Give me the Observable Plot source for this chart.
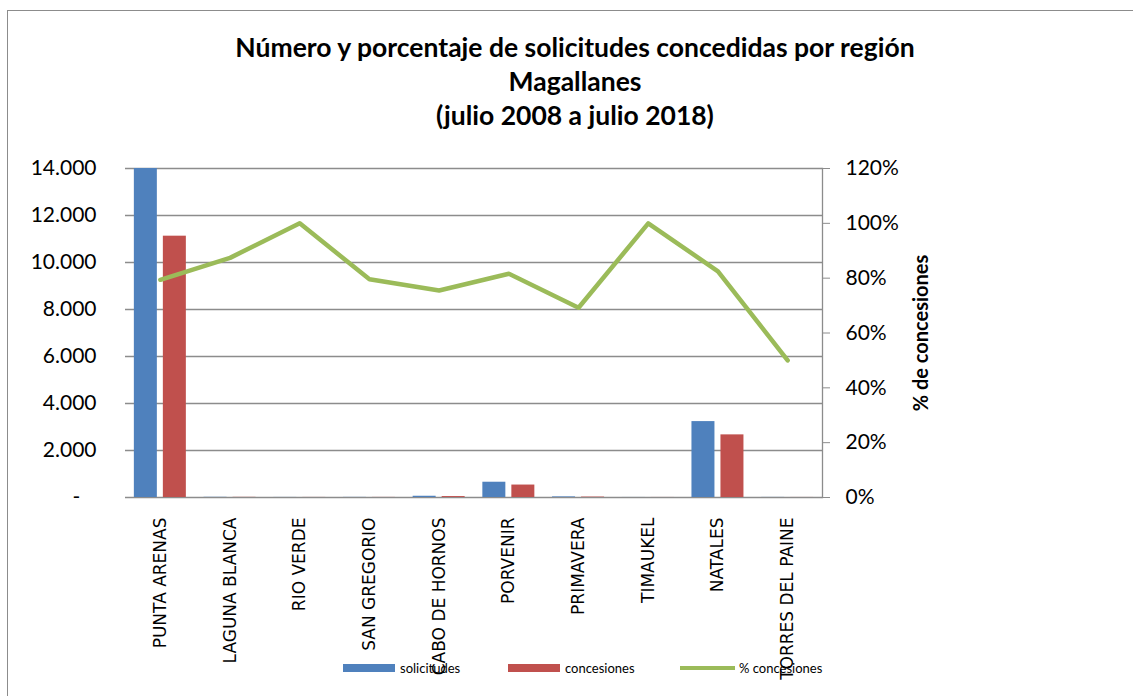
<!DOCTYPE html>
<html><head><meta charset="utf-8">
<script src="https://cdn.jsdelivr.net/npm/d3@7"></script>
<script src="https://cdn.jsdelivr.net/npm/@observablehq/plot@0.6"></script>
<style>
body{margin:0;background:#fff;}
#wrap{position:relative;width:1133px;height:696px;overflow:hidden;font-family:Lato,sans-serif;color:#000;}
#frame{position:absolute;left:7px;top:10px;width:1300px;height:900px;border-left:1.5px solid #8c8c8c;border-top:1.5px solid #8c8c8c;}
#title{position:absolute;left:0;top:0;width:1150px;height:140px;text-align:center;font-weight:bold;font-size:26.5px;line-height:34px;padding-top:30px;box-sizing:border-box;}
#chart,#overlay{position:absolute;left:0;top:140px;}
#overlay{pointer-events:none;}
.lg{position:absolute;font-size:13px;line-height:16px;white-space:nowrap;}
.sw{position:absolute;}
</style></head>
<body>
<div id="wrap">
  <div id="frame"></div>
  <div id="title">Número y porcentaje de solicitudes concedidas por región<br>Magallanes<br>(julio 2008 a julio 2018)</div>
  <div id="chart"></div>
  <div id="overlay"></div>
  <div id="legend"></div>
</div>
<script>
const regions = ["PUNTA ARENAS","LAGUNA BLANCA","RIO VERDE","SAN GREGORIO","CABO DE HORNOS","PORVENIR","PRIMAVERA","TIMAUKEL","NATALES","TORRES DEL PAINE"];
const solicitudes = [14000, 8, 3, 5, 53, 650, 26, 2, 3230, 4];
const concesiones = [11120, 7, 3, 4, 40, 530, 18, 2, 2665, 2];
const pctConcesiones = [79.4, 87.4, 100, 79.6, 75.5, 81.6, 69.2, 100, 82.5, 50];
const leftTicks = [0, 2000, 4000, 6000, 8000, 10000, 12000, 14000];
const rightTicks = [0, 20, 40, 60, 80, 100, 120];
const seriesNames = ["solicitudes", "concesiones", "% concesiones"];
const colors = ["#4F81BD", "#C0504D", "#9BBB59"];
const rightTitle = "% de concesiones";

const data = regions.map((r, i) => ({region: r, solicitudes: solicitudes[i], concesiones: concesiones[i], pct: pctConcesiones[i]}));
const esFmt = d3.formatLocale({decimal: ",", thousands: ".", grouping: [3], currency: ["$", ""]}).format(",.0f");

const W = 1133, H = 556;
const common = {
  width: W, height: H, marginTop: 28, marginBottom: 199, marginLeft: 125, marginRight: 311,
  style: {fontFamily: "Lato, sans-serif", fontSize: "21px", color: "#000", background: "transparent", overflow: "visible"}
};
const xScale = {type: "band", domain: regions, paddingInner: 0.254, paddingOuter: 0.127, round: false};

const main = Plot.plot({
  ...common,
  x: {...xScale, axis: null},
  y: {domain: [0, 14000], axis: null},
  marks: [
    Plot.ruleY(leftTicks, {stroke: "#8c8c8c", strokeWidth: 1.3}),
    Plot.barY(data, {x: "region", y: "solicitudes", fill: colors[0], insetRight: 29}),
    Plot.barY(data, {x: "region", y: "concesiones", fill: colors[1], insetLeft: 29}),
    Plot.axisY({ticks: leftTicks, tickSize: 0, tickPadding: 29, label: null,
      tickFormat: d => d === 0 ? "-\u00a0\u00a0\u00a0" : esFmt(d), fontSize: 21}),
    Plot.axisX({tickRotate: -90, tickSize: 0, tickPadding: 20, label: null, fontSize: 17, fontFamily: "DejaVu Sans"})
  ]
});
document.getElementById("chart").appendChild(main);

const over = Plot.plot({
  ...common,
  x: {...xScale, axis: null},
  y: {domain: [0, 120], axis: null},
  marks: [
    Plot.frame({anchor: "right", stroke: "#8c8c8c", strokeWidth: 1.3}),
    Plot.lineY(data, {x: "region", y: "pct", stroke: colors[2], strokeWidth: 4.5, strokeLinejoin: "round", strokeLinecap: "round"}),
    Plot.axisY({anchor: "right", ticks: rightTicks, tickSize: 7, tickPadding: 16, stroke: "#8c8c8c", label: null,
      tickFormat: d => d + "%", fontSize: 21}),
    Plot.text([rightTitle], {text: d => d, frameAnchor: "right", dx: 99, rotate: -90, textAnchor: "middle",
      fontWeight: "bold", fontSize: 20})
  ]
});
document.getElementById("overlay").appendChild(over);

// legend
const lg = document.getElementById("legend");
const items = [
  {sx: 343, sw: 52, sy: 664, sh: 8, tx: 400},
  {sx: 508, sw: 52, sy: 664, sh: 8, tx: 565},
  {sx: 680, sw: 55, sy: 666, sh: 4, tx: 739}
];
seriesNames.forEach((name, i) => {
  const it = items[i];
  const s = document.createElement("div");
  s.className = "sw";
  s.style.cssText = `left:${it.sx}px;top:${it.sy}px;width:${it.sw}px;height:${it.sh}px;background:${colors[i]};`;
  lg.appendChild(s);
  const t = document.createElement("div");
  t.className = "lg";
  t.style.cssText = `left:${it.tx}px;top:660px;`;
  t.textContent = name;
  lg.appendChild(t);
});
</script>
</body></html>
